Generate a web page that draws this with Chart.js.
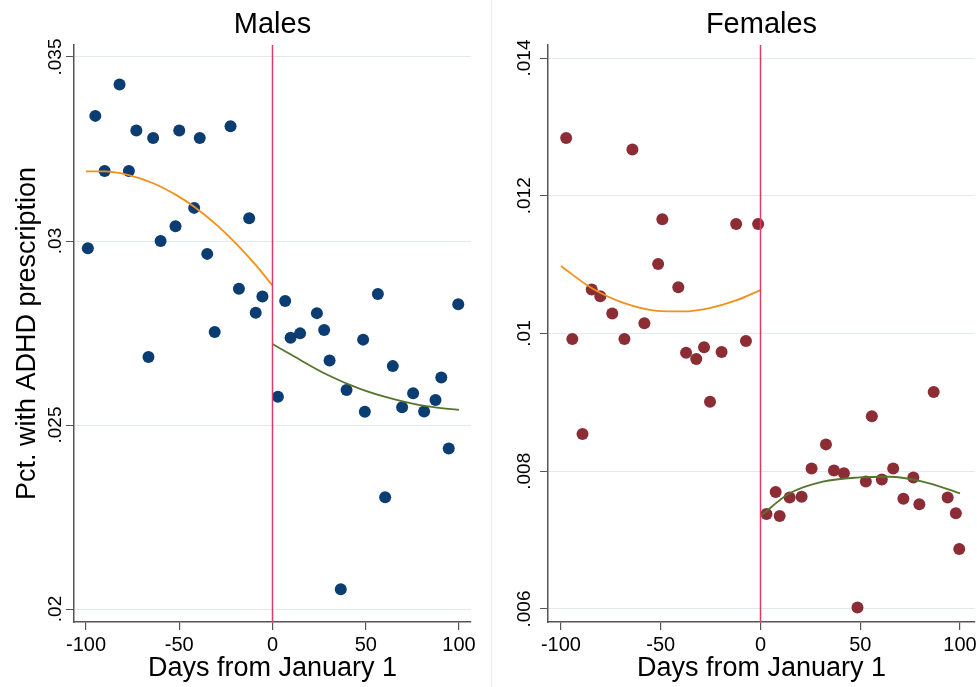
<!DOCTYPE html>
<html>
<head>
  <title>ADHD prescriptions around January 1</title>
  <script src="https://cdn.jsdelivr.net/npm/chart.js"></script>
  <style>
    body { margin: 0; background: #fff; overflow: hidden; }
    #males { position: absolute; left: 0; top: 0; }
    #females { position: absolute; left: 492px; top: 0; }
    #sep { position: absolute; left: 491px; top: 0; width: 1px; height: 687px; background: #e6eef1; }
  </style>
</head>
<body>
  <canvas id="males" width="491" height="687"></canvas>
  <div id="sep"></div>
  <canvas id="females" width="495" height="687"></canvas>

  <script>
    // x axis (days from January 1)
    const xTicks = [-100, -50, 0, 50, 100];
    const xLabels = ['-100', '-50', '0', '50', '100'];

    // males
    const maleTicks = [0.02, 0.025, 0.03, 0.035];
    const maleTickLabels = ['.02', '.025', '.03', '.035'];
    const maleDaysPre = [-99, -95, -90, -82, -77, -73, -66.5, -64, -60, -52, -50, -42, -39, -35, -31, -22.5, -18, -12.5, -9, -5.4];
    const malePctPre = [.0298, .0334, .0319, .03425, .0319, .0330, .02685, .0328, .0300, .0304, .0330, .0309, .0328, .02965, .02753, .03312, .0287, .03062, .02805, .02849];
    const maleDaysPost = [2.9, 6.8, 9.7, 14.8, 23.8, 27.7, 30.6, 36.6, 39.7, 48.6, 49.5, 56.5, 60.4, 64.5, 69.5, 75.4, 81.3, 87.4, 90.5, 94.5, 99.6];
    const malePctPost = [.02577, .02837, .02737, .02749, .02804, .02758, .02675, .02054, .02595, .02732, .02536, .02856, .02304, .0266, .02548, .02586, .02537, .02568, .02629, .02436, .02828];
    const maleFitPreDays = [-100, -90, -77, -64, -52, -42, -30, -19.5, -8.7, 0];
    const maleFitPre = [.03189, .03189, .03179, .03157, .03126, .03093, .03044, .02993, .02933, .02879];
    const maleFitPostDays = [0, 11, 28.8, 46.6, 64.5, 82.4, 100];
    const maleFitPost = [.0272, .02688, .02638, .02599, .02571, .02551, .02541];

    // females
    const femaleTicks = [0.006, 0.008, 0.01, 0.012, 0.014];
    const femaleTickLabels = ['.006', '.008', '.01', '.012', '.014'];
    const femaleDaysPre = [-97.4, -94.3, -89.2, -84.6, -80.3, -74.3, -68.2, -64.2, -58.2, -51.3, -49.2, -41.2, -37.3, -32.2, -28.3, -25.3, -19.5, -12.2, -7.3, -1.2];
    const femalePctPre = [.01284, .00992, .00854, .01064, .01054, .01029, .00992, .01267, .01015, .01101, .01166, .01067, .00972, .00963, .0098, .00901, .00973, .01159, .00989, .01159];
    const femaleDaysPost = [3, 7.6, 9.6, 14.6, 20.6, 25.6, 32.8, 36.8, 41.8, 48.6, 52.8, 55.8, 60.8, 66.5, 71.6, 76.6, 79.6, 86.8, 93.8, 97.9, 99.6];
    const femalePctPost = [.00738, .0077, .00735, .00762, .00763, .00804, .00839, .00801, .00797, .00602, .00785, .0088, .00788, .00804, .0076, .00791, .00752, .00915, .00762, .00739, .00687];
    const femaleFitPreDays = [-100, -84.7, -68.3, -52, -38.8, -25.5, -12.2, 0];
    const femaleFitPre = [.01098, .01066, .01044, .01033, .01032, .01037, .01048, .01063];
    const femaleFitPostDays = [0, 14.6, 31.3, 49.6, 64.6, 81.3, 100];
    const femaleFitPost = [.00735, .00768, .00785, .00791, .00792, .00785, .00768];

    Chart.defaults.font.family = "'Liberation Sans', Arial, sans-serif";
    Chart.defaults.color = '#000';

    function pts(xs, ys) {
      return xs.map((x, i) => ({ x: x, y: ys[i] }));
    }

    function panel(id, p) {
      const ctx = document.getElementById(id).getContext('2d');
      return new Chart(ctx, {
        type: 'scatter',
        data: {
          datasets: [
            { data: [{ x: 0, y: p.yMin }, { x: 0, y: p.yMax }], type: 'line', borderColor: '#dc3d68', borderWidth: 1.5, pointRadius: 0, order: 0 },
            { data: pts(p.fitPreDays, p.fitPre), type: 'line', borderColor: '#f39019', borderWidth: 1.8, pointRadius: 0, cubicInterpolationMode: 'monotone', order: 1 },
            { data: pts(p.fitPostDays, p.fitPost), type: 'line', borderColor: '#55752f', borderWidth: 1.8, pointRadius: 0, cubicInterpolationMode: 'monotone', order: 1 },
            { data: pts(p.preDays, p.prePct), backgroundColor: p.dot, pointRadius: 6, borderWidth: 0, order: 2 },
            { data: pts(p.postDays, p.postPct), backgroundColor: p.dot, pointRadius: 6, borderWidth: 0, order: 2 }
          ]
        },
        options: {
          responsive: false,
          animation: false,
          layout: { padding: { left: 0, top: 0, bottom: 0, right: p.padRight } },
          plugins: {
            legend: { display: false },
            tooltip: { enabled: false },
            title: {
              display: true, text: p.title, fullSize: false, color: '#000',
              font: { size: 29, weight: 'normal' }, padding: { top: 8, bottom: 2.2 }
            }
          },
          scales: {
            x: {
              type: 'linear', min: p.xMin, max: p.xMax,
              afterBuildTicks: s => { s.ticks = xTicks.map(v => ({ value: v })); },
              afterFit: s => { s.height = 65; },
              grid: { drawOnChartArea: false, tickLength: 8, tickColor: '#555', lineWidth: 1.2 },
              border: { color: '#555', width: 1.5 },
              ticks: { font: { size: 20 }, color: '#000', padding: 3, maxRotation: 0, callback: (v, i) => xLabels[i] },
              title: { display: true, text: 'Days from January 1', font: { size: 27 }, color: '#000', padding: { bottom: 2 } }
            },
            y: {
              type: 'linear', min: p.yMin, max: p.yMax,
              afterBuildTicks: s => { s.ticks = p.yTicks.map(v => ({ value: v })); },
              afterFit: s => { s.width = p.yWidth; },
              grid: { color: '#e1eaee', lineWidth: 1, tickLength: 8, tickColor: '#555' },
              border: { color: '#555', width: 1.5 },
              ticks: { font: { size: 19 }, color: '#000', minRotation: 90, maxRotation: 90, crossAlign: 'center', padding: p.tickPad, callback: (v, i) => p.yLabels[i] },
              title: { display: p.yTitle !== '', text: p.yTitle, font: { size: 27 }, color: '#000', padding: { top: 11 } }
            }
          }
        }
      });
    }

    panel('males', {
      title: 'Males', dot: '#0b3d72', padRight: 20, yWidth: 74, tickPad: -8.5,
      xMin: -106.43, xMax: 106.43, yMin: 0.019647, yMax: 0.035326,
      yTicks: maleTicks, yLabels: maleTickLabels, yTitle: 'Pct. with ADHD prescription',
      preDays: maleDaysPre, prePct: malePctPre, postDays: maleDaysPost, postPct: malePctPost,
      fitPreDays: maleFitPreDays, fitPre: maleFitPre, fitPostDays: maleFitPostDays, fitPost: maleFitPost
    });

    panel('females', {
      title: 'Females', dot: '#8c2d35', padRight: 12, yWidth: 56, tickPad: -3.5,
      xMin: -106.5, xMax: 107.5, yMin: 0.005811, yMax: 0.014189,
      yTicks: femaleTicks, yLabels: femaleTickLabels, yTitle: '',
      preDays: femaleDaysPre, prePct: femalePctPre, postDays: femaleDaysPost, postPct: femalePctPost,
      fitPreDays: femaleFitPreDays, fitPre: femaleFitPre, fitPostDays: femaleFitPostDays, fitPost: femaleFitPost
    });
  </script>
</body>
</html>
